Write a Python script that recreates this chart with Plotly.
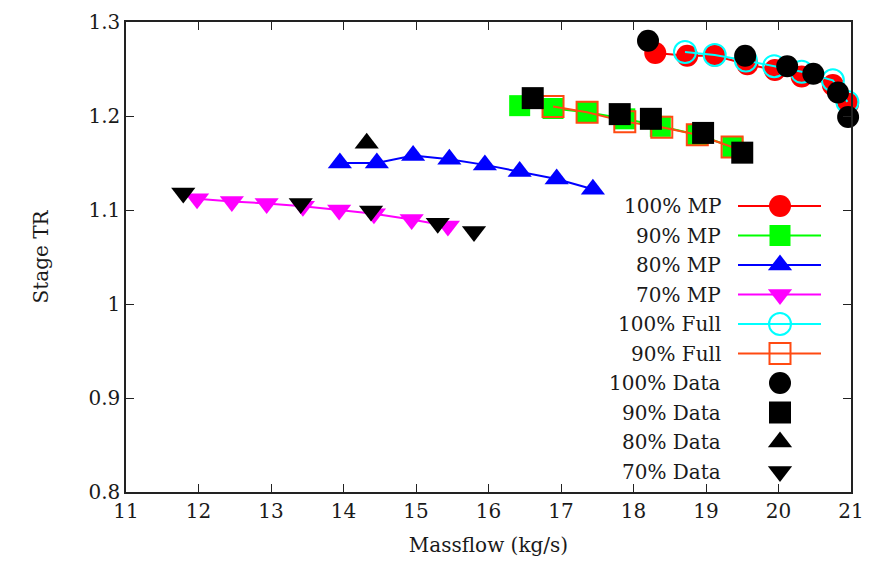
import plotly.graph_objects as go

# ---- data ----
mp100_x = [18.30, 18.74, 19.12, 19.57, 19.95, 20.32, 20.75, 20.96]
mp100_y = [1.267, 1.264, 1.264, 1.255, 1.249, 1.242, 1.233, 1.213]
mp90_x = [16.43, 16.89, 17.36, 17.88, 18.37, 18.88, 19.37]
mp90_y = [1.211, 1.208, 1.204, 1.197, 1.189, 1.180, 1.167]
mp80_x = [13.95, 14.46, 14.96, 15.46, 15.95, 16.43, 16.94, 17.44]
mp80_y = [1.150, 1.150, 1.158, 1.154, 1.148, 1.141, 1.133, 1.122]
mp70_x = [11.98, 12.46, 12.94, 13.44, 13.94, 14.42, 14.94, 15.44]
mp70_y = [1.112, 1.109, 1.107, 1.104, 1.100, 1.096, 1.090, 1.083]
full100_x = [18.71, 19.12, 19.55, 19.94, 20.32, 20.75, 20.95]
full100_y = [1.268, 1.265, 1.259, 1.253, 1.247, 1.238, 1.215]
full90_x = [16.89, 17.36, 17.88, 18.39, 18.88, 19.36]
full90_y = [1.210, 1.204, 1.194, 1.188, 1.180, 1.167]
data100_x = [18.20, 19.54, 20.12, 20.48, 20.82, 20.96]
data100_y = [1.280, 1.264, 1.253, 1.245, 1.225, 1.199]
data90_x = [16.61, 17.81, 18.24, 18.96, 19.50]
data90_y = [1.219, 1.202, 1.197, 1.182, 1.161]
data80_x = [14.32]
data80_y = [1.171]
data70_x = [11.79, 13.41, 14.38, 15.30, 15.80]
data70_y = [1.118, 1.107, 1.099, 1.086, 1.077]

x_ticks = [11, 12, 13, 14, 15, 16, 17, 18, 19, 20, 21]
y_ticks = [0.8, 0.9, 1.0, 1.1, 1.2, 1.3]
y_tick_labels = ["0.8", "0.9", "1", "1.1", "1.2", "1.3"]

FONT = "DejaVu Serif"
TXT = "#1a1a1a"

series = [
    ("100% MP", mp100_x, mp100_y, "#ff0000", "circle", 22, "lines+markers"),
    ("90% MP", mp90_x, mp90_y, "#00ff00", "square", 21, "lines+markers"),
    ("80% MP", mp80_x, mp80_y, "#0000ff", "triangle-up", 21, "lines+markers"),
    ("70% MP", mp70_x, mp70_y, "#ff00ff", "triangle-down", 21, "lines+markers"),
    ("100% Full", full100_x, full100_y, "#00ffff", "circle-open", 22, "lines+markers"),
    ("90% Full", full90_x, full90_y, "#ff4a12", "square-open", 21, "lines+markers"),
    ("100% Data", data100_x, data100_y, "#000000", "circle", 22, "markers"),
    ("90% Data", data90_x, data90_y, "#000000", "square", 22, "markers"),
    ("80% Data", data80_x, data80_y, "#000000", "triangle-up", 21, "markers"),
    ("70% Data", data70_x, data70_y, "#000000", "triangle-down", 21, "markers"),
]

fig = go.Figure()
for name, xs, ys, col, sym, sz, mode in series:
    fig.add_trace(go.Scatter(
        x=xs, y=ys, mode=mode, name=name, showlegend=False, cliponaxis=False,
        line=dict(color=col, width=2),
        marker=dict(color=col, symbol=sym, size=sz,
                    line=dict(color=col, width=2 if "open" in sym else 0)),
    ))

# ---- custom legend (text left, key right), on a pixel-scaled overlay axis ----
leg_y0, leg_dy = 206, 29.5
for i, (name, xs, ys, col, sym, sz, mode) in enumerate(series):
    yy = leg_y0 + i * leg_dy
    if mode == "lines+markers":
        fig.add_trace(go.Scatter(
            x=[738, 821], y=[yy, yy], mode="lines", xaxis="x2", yaxis="y2",
            line=dict(color=col, width=2), showlegend=False, hoverinfo="skip"))
    fig.add_trace(go.Scatter(
        x=[780], y=[yy], mode="markers", xaxis="x2", yaxis="y2",
        marker=dict(color=col, symbol=sym, size=sz,
                    line=dict(color=col, width=2 if "open" in sym else 0)),
        showlegend=False, hoverinfo="skip"))
    fig.add_annotation(x=723, y=yy, xref="x2", yref="y2", text=name,
                       showarrow=False, xanchor="right", yanchor="middle",
                       font=dict(family=FONT, size=20, color=TXT))

axis_common = dict(showgrid=False, zeroline=False, showline=True, linewidth=1.5,
                   linecolor="#222", mirror="ticks", ticks="inside", ticklen=8,
                   tickwidth=1.2, tickcolor="#222", automargin=False,
                   tickfont=dict(family=FONT, size=20, color=TXT))

# page body adds an 8px offset: margins compensate so the plot box sits at x 126-851, y 22-492
fig.update_layout(
    width=874, height=570,
    margin=dict(l=118, r=31, t=14, b=86, autoexpand=False),
    font=dict(family=FONT),
    plot_bgcolor="white", paper_bgcolor="white",
    xaxis=dict(range=[11, 21], tickvals=x_ticks,
               title=dict(text="Massflow (kg/s)", font=dict(family=FONT, size=20, color=TXT), standoff=16),
               **axis_common),
    yaxis=dict(range=[0.8, 1.3], tickvals=y_ticks, ticktext=y_tick_labels,
               title=dict(text="Stage TR", font=dict(family=FONT, size=20, color=TXT), standoff=34),
               **axis_common),
    xaxis2=dict(range=[126, 851], overlaying="x", visible=False, anchor="y2"),
    yaxis2=dict(range=[492, 22], overlaying="y", visible=False, anchor="x2"),
)

fig.write_html("out.html")
